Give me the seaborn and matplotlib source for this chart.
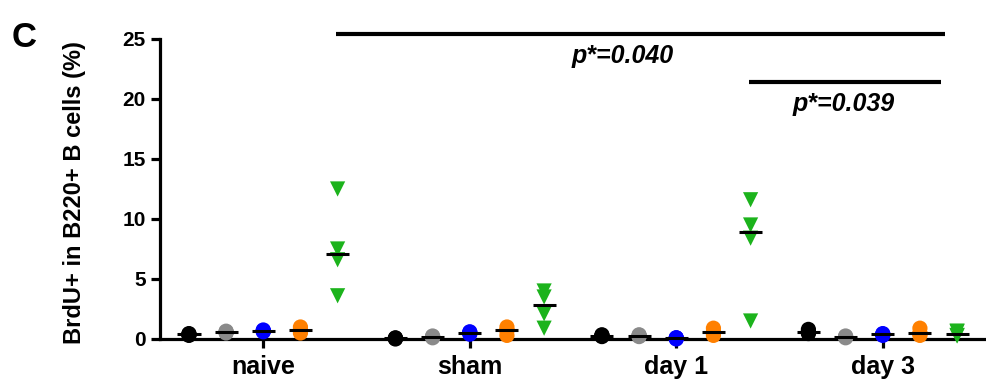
import numpy as np
import pandas as pd
import matplotlib
matplotlib.use("Agg")
import matplotlib.pyplot as plt
import seaborn as sns

# ---- data ----
days = ["naive", "sham", "day 1", "day 3"]
series = ["black", "gray", "blue", "orange", "green"]

black_vals = [[0.30, 0.40, 0.35, 0.45], [0.00, 0.05, 0.10, 0.05],
              [0.20, 0.30, 0.35, 0.25], [0.45, 0.55, 0.60, 0.80]]
gray_vals = [[0.50, 0.60, 0.65, 0.55], [0.10, 0.20, 0.25, 0.15],
             [0.20, 0.30, 0.35, 0.25], [0.10, 0.20, 0.15, 0.25]]
blue_vals = [[0.60, 0.70, 0.75, 0.65], [0.40, 0.55, 0.60, 0.50],
             [0.00, 0.05, 0.10, 0.10], [0.30, 0.40, 0.45, 0.35]]
orange_vals = [[0.50, 0.75, 1.00, 0.75], [0.30, 0.70, 1.00, 0.75],
               [0.30, 0.50, 0.90, 0.60], [0.30, 0.45, 0.90, 0.50]]
green_vals = [[12.5, 7.5, 6.6, 3.6], [4.0, 3.5, 2.1, 0.9],
              [11.6, 9.5, 8.4, 1.5], [0.66, 0.60, 0.30, 0.25]]

p_labels = ["p*=0.040", "p*=0.039"]

colors = {"black": "#000000", "gray": "#8a8a8a", "blue": "#0000ff",
          "orange": "#ff8000", "green": "#1cb31c"}
markers = {"black": "o", "gray": "o", "blue": "o", "orange": "o", "green": "v"}

# ---- build long table ----
all_vals = [black_vals, gray_vals, blue_vals, orange_vals, green_vals]
rows = []
for si, (sname, vals) in enumerate(zip(series, all_vals)):
    for di, d in enumerate(days):
        for v in vals[di]:
            rows.append({"day": d, "series": sname, "value": v,
                         "xpos": di + (si - 2) * 0.18})
df = pd.DataFrame(rows)

# ---- plot ----
sns.set_style("ticks")
plt.rcParams["font.family"] = ["Liberation Sans", "DejaVu Sans"]
for k in ["text.color", "axes.edgecolor", "axes.labelcolor",
          "xtick.color", "ytick.color"]:
    plt.rcParams[k] = "black"

fig = plt.figure(figsize=(9.86, 3.82), dpi=100)
ax = fig.add_axes([0.1623, 0.1126, 0.8377, 0.7854])

sns.scatterplot(data=df, x="xpos", y="value", hue="series", style="series",
                palette=colors, markers=markers, hue_order=series,
                style_order=series, s=120, edgecolor="none", legend=False,
                ax=ax, clip_on=False, zorder=3)

# median lines
med = df.groupby(["series", "day"], sort=False)["value"].median()
for (sname, d), m in med.items():
    xc = days.index(d) + (series.index(sname) - 2) * 0.18
    ax.plot([xc - 0.056, xc + 0.056], [m, m], color="black", lw=2.2,
            solid_capstyle="butt", zorder=4, clip_on=False)

ax.set_xlim(-0.5, 3.5)
ax.set_ylim(0, 25)
ax.set_xticks(range(len(days)))
ax.set_xticklabels(days, fontsize=18, fontweight="bold")
ax.set_yticks([0, 5, 10, 15, 20, 25])
ax.set_yticklabels(["0", "5", "10", "15", "20", "25"], fontsize=15,
                   fontweight="bold")
ax.set_xlabel("")
ax.set_ylabel("")
sns.despine(ax=ax)
for sp in ["left", "bottom"]:
    ax.spines[sp].set_linewidth(2.3)
    ax.spines[sp].set_color("black")
ax.tick_params(axis="both", direction="out", length=6.2, width=2.3,
               colors="black")
ax.tick_params(axis="x", pad=5)
ax.tick_params(axis="y", pad=4)

# significance bars
ax.plot([0.35, 3.30], [25.4, 25.4], color="black", lw=3, clip_on=False,
        solid_capstyle="butt")
ax.text(1.74, 23.0, p_labels[0], ha="center", va="baseline", fontsize=18,
        fontweight="bold", fontstyle="italic")
ax.plot([2.35, 3.28], [21.4, 21.4], color="black", lw=3, clip_on=False,
        solid_capstyle="butt")
ax.text(2.81, 19.0, p_labels[1], ha="center", va="baseline", fontsize=18,
        fontweight="bold", fontstyle="italic")

fig.text(75 / 986, 0.496, "BrdU+ in B220+ B cells (%)", rotation=90,
         ha="center", va="center", fontsize=17, fontweight="bold")
fig.text(12 / 986, 1 - 47 / 382, "C", ha="left", va="baseline",
         fontsize=25, fontweight="bold")

fig.savefig("out.png", dpi=100)
